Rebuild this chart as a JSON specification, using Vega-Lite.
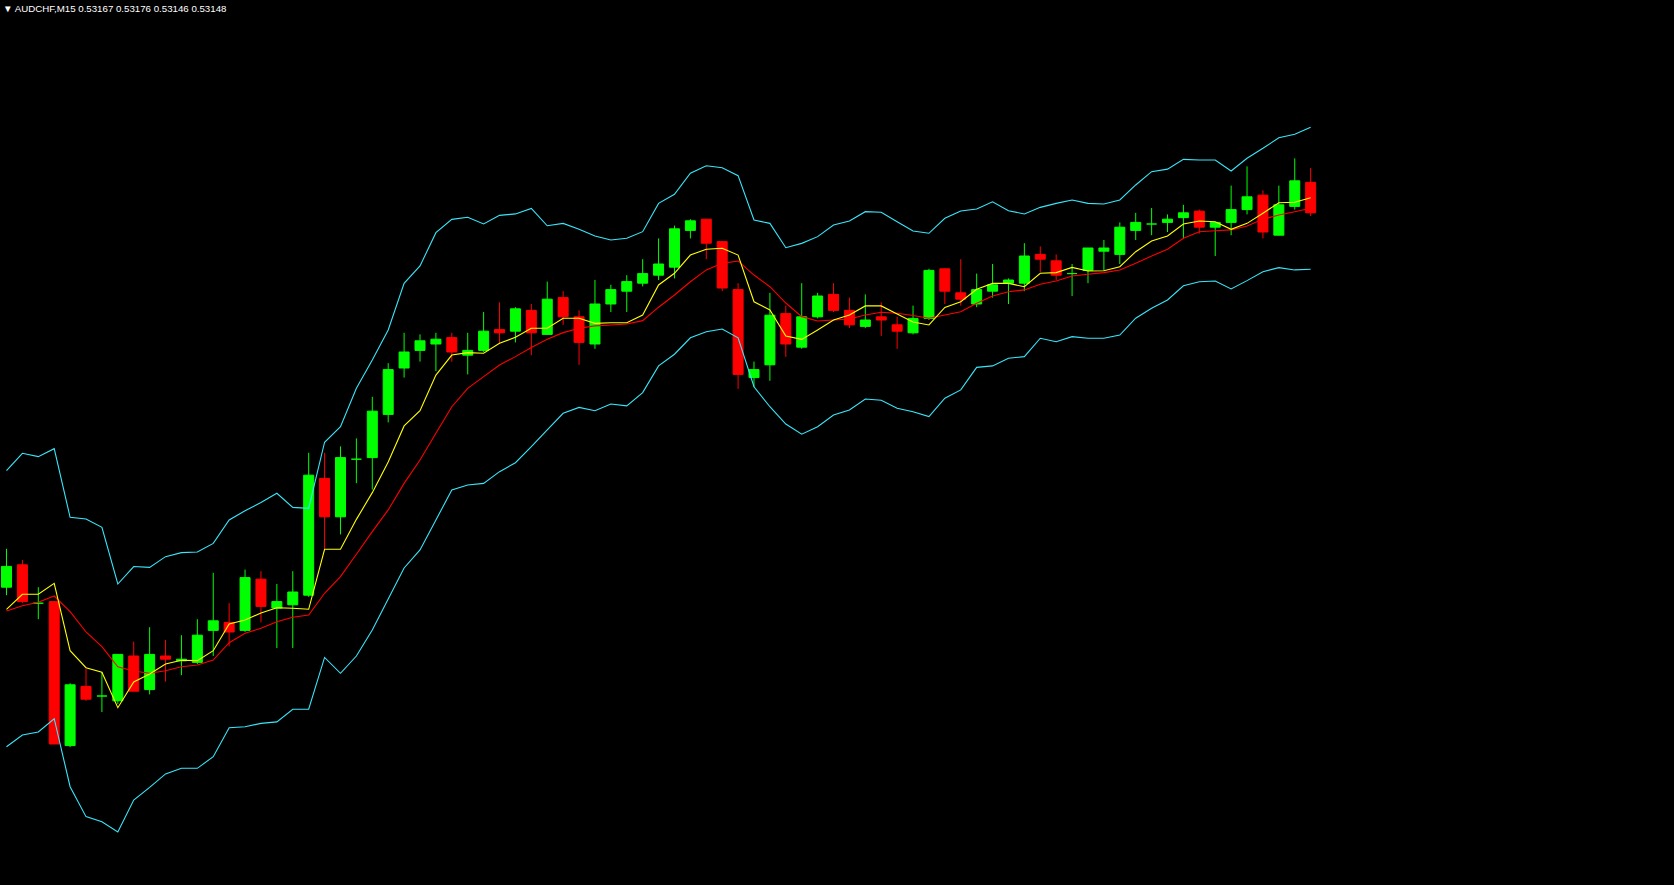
{
  "$schema": "https://vega.github.io/schema/vega-lite/v6.json",
  "width": 1674,
  "height": 885,
  "padding": 0,
  "autosize": {"type": "fit", "contains": "padding"},
  "background": "#000000",
  "config": {"view": {"stroke": null, "fill": "#000000"}},
  "title": {"text": "▼ AUDCHF,M15  0.53167 0.53176 0.53146 0.53148", "anchor": "start", "frame": "group", "orient": "top", "offset": -21.5, "baseline": "alphabetic", "dx": 3, "font": "Liberation Sans", "fontSize": 9.7, "fontWeight": "normal", "color": "#FFFFFF"},
  "data": {"values": [
    {"i":0,"open":0.52914,"high":0.52938,"low":0.52909,"close":0.52927,"upper":0.529868,"lower":0.528143,"fast":0.529002,"slow":0.528991},
    {"i":1,"open":0.52928,"high":0.52931,"low":0.52904,"close":0.52905,"upper":0.529977,"lower":0.528216,"fast":0.529096,"slow":0.529024},
    {"i":2,"open":0.52904,"high":0.52914,"low":0.52894,"close":0.52904,"upper":0.529956,"lower":0.528235,"fast":0.529096,"slow":0.529046},
    {"i":3,"open":0.52905,"high":0.52905,"low":0.52816,"close":0.52816,"upper":0.530006,"lower":0.528318,"fast":0.529164,"slow":0.529085},
    {"i":4,"open":0.52815,"high":0.52854,"low":0.52814,"close":0.52853,"upper":0.529577,"lower":0.527893,"fast":0.528743,"slow":0.528987},
    {"i":5,"open":0.52852,"high":0.52863,"low":0.52843,"close":0.52844,"upper":0.529566,"lower":0.527706,"fast":0.528637,"slow":0.528860},
    {"i":6,"open":0.52846,"high":0.52861,"low":0.52836,"close":0.52846,"upper":0.529514,"lower":0.527674,"fast":0.528608,"slow":0.528768},
    {"i":7,"open":0.52843,"high":0.52872,"low":0.52841,"close":0.52872,"upper":0.529160,"lower":0.527610,"fast":0.528387,"slow":0.528643},
    {"i":8,"open":0.52871,"high":0.52880,"low":0.52849,"close":0.52849,"upper":0.529269,"lower":0.527810,"fast":0.528548,"slow":0.528616},
    {"i":9,"open":0.52850,"high":0.52889,"low":0.52847,"close":0.52872,"upper":0.529264,"lower":0.527889,"fast":0.528598,"slow":0.528602},
    {"i":10,"open":0.52871,"high":0.52881,"low":0.52855,"close":0.52869,"upper":0.529331,"lower":0.527973,"fast":0.528660,"slow":0.528618},
    {"i":11,"open":0.52868,"high":0.52884,"low":0.52859,"close":0.52869,"upper":0.529356,"lower":0.528008,"fast":0.528683,"slow":0.528643},
    {"i":12,"open":0.52867,"high":0.52894,"low":0.52866,"close":0.52884,"upper":0.529360,"lower":0.528008,"fast":0.528681,"slow":0.528654},
    {"i":13,"open":0.52887,"high":0.52923,"low":0.52871,"close":0.52893,"upper":0.529414,"lower":0.528081,"fast":0.528743,"slow":0.528685},
    {"i":14,"open":0.52892,"high":0.52904,"low":0.52877,"close":0.52886,"upper":0.529560,"lower":0.528262,"fast":0.528910,"slow":0.528793},
    {"i":15,"open":0.52887,"high":0.52925,"low":0.52886,"close":0.52920,"upper":0.529618,"lower":0.528268,"fast":0.528935,"slow":0.528852},
    {"i":16,"open":0.52919,"high":0.52924,"low":0.52892,"close":0.52902,"upper":0.529669,"lower":0.528289,"fast":0.528979,"slow":0.528883},
    {"i":17,"open":0.52901,"high":0.52916,"low":0.52876,"close":0.52905,"upper":0.529727,"lower":0.528298,"fast":0.529012,"slow":0.528924},
    {"i":18,"open":0.52903,"high":0.52924,"low":0.52876,"close":0.52911,"upper":0.529639,"lower":0.528377,"fast":0.529008,"slow":0.528952},
    {"i":19,"open":0.52909,"high":0.52998,"low":0.52908,"close":0.52984,"upper":0.529633,"lower":0.528377,"fast":0.529002,"slow":0.528966},
    {"i":20,"open":0.52982,"high":0.52998,"low":0.52938,"close":0.52958,"upper":0.530046,"lower":0.528701,"fast":0.529377,"slow":0.529102},
    {"i":21,"open":0.52958,"high":0.53002,"low":0.52947,"close":0.52995,"upper":0.530143,"lower":0.528602,"fast":0.529377,"slow":0.529206},
    {"i":22,"open":0.52994,"high":0.53007,"low":0.52979,"close":0.52994,"upper":0.530383,"lower":0.528710,"fast":0.529564,"slow":0.529346},
    {"i":23,"open":0.52995,"high":0.53033,"low":0.52975,"close":0.53024,"upper":0.530560,"lower":0.528873,"fast":0.529731,"slow":0.529487},
    {"i":24,"open":0.53022,"high":0.53054,"low":0.53017,"close":0.53050,"upper":0.530748,"lower":0.529066,"fast":0.529923,"slow":0.529623},
    {"i":25,"open":0.53051,"high":0.53073,"low":0.53045,"close":0.53061,"upper":0.531039,"lower":0.529260,"fast":0.530148,"slow":0.529789},
    {"i":26,"open":0.53062,"high":0.53072,"low":0.53055,"close":0.53068,"upper":0.531148,"lower":0.529373,"fast":0.530243,"slow":0.529935},
    {"i":27,"open":0.53066,"high":0.53073,"low":0.53049,"close":0.53069,"upper":0.531356,"lower":0.529560,"fast":0.530466,"slow":0.530102},
    {"i":28,"open":0.53070,"high":0.53073,"low":0.53055,"close":0.53061,"upper":0.531439,"lower":0.529748,"fast":0.530591,"slow":0.530268},
    {"i":29,"open":0.53059,"high":0.53073,"low":0.53047,"close":0.53062,"upper":0.531452,"lower":0.529779,"fast":0.530606,"slow":0.530383},
    {"i":30,"open":0.53062,"high":0.53086,"low":0.53061,"close":0.53074,"upper":0.531410,"lower":0.529789,"fast":0.530602,"slow":0.530456},
    {"i":31,"open":0.53075,"high":0.53092,"low":0.53066,"close":0.53073,"upper":0.531464,"lower":0.529862,"fast":0.530664,"slow":0.530529},
    {"i":32,"open":0.53074,"high":0.53089,"low":0.53067,"close":0.53088,"upper":0.531473,"lower":0.529918,"fast":0.530702,"slow":0.530581},
    {"i":33,"open":0.53087,"high":0.53091,"low":0.53059,"close":0.53073,"upper":0.531507,"lower":0.530018,"fast":0.530758,"slow":0.530638},
    {"i":34,"open":0.53072,"high":0.53105,"low":0.53072,"close":0.53094,"upper":0.531399,"lower":0.530123,"fast":0.530758,"slow":0.530689},
    {"i":35,"open":0.53095,"high":0.53099,"low":0.53078,"close":0.53083,"upper":0.531414,"lower":0.530227,"fast":0.530821,"slow":0.530731},
    {"i":36,"open":0.53083,"high":0.53087,"low":0.53053,"close":0.53067,"upper":0.531377,"lower":0.530264,"fast":0.530821,"slow":0.530758},
    {"i":37,"open":0.53066,"high":0.53106,"low":0.53063,"close":0.53091,"upper":0.531335,"lower":0.530243,"fast":0.530789,"slow":0.530773},
    {"i":38,"open":0.53091,"high":0.53103,"low":0.53086,"close":0.53100,"upper":0.531310,"lower":0.530285,"fast":0.530793,"slow":0.530779},
    {"i":39,"open":0.53099,"high":0.53109,"low":0.53086,"close":0.53105,"upper":0.531321,"lower":0.530273,"fast":0.530793,"slow":0.530785},
    {"i":40,"open":0.53104,"high":0.53119,"low":0.53102,"close":0.53110,"upper":0.531362,"lower":0.530356,"fast":0.530841,"slow":0.530806},
    {"i":41,"open":0.53109,"high":0.53132,"low":0.53106,"close":0.53116,"upper":0.531539,"lower":0.530523,"fast":0.531029,"slow":0.530890},
    {"i":42,"open":0.53114,"high":0.53140,"low":0.53107,"close":0.53138,"upper":0.531596,"lower":0.530596,"fast":0.531102,"slow":0.530966},
    {"i":43,"open":0.53137,"high":0.53144,"low":0.53132,"close":0.53143,"upper":0.531727,"lower":0.530699,"fast":0.531216,"slow":0.531049},
    {"i":44,"open":0.53144,"high":0.53144,"low":0.53119,"close":0.53129,"upper":0.531774,"lower":0.530737,"fast":0.531252,"slow":0.531123},
    {"i":45,"open":0.53130,"high":0.53130,"low":0.53099,"close":0.53101,"upper":0.531762,"lower":0.530754,"fast":0.531258,"slow":0.531164},
    {"i":46,"open":0.53100,"high":0.53104,"low":0.53038,"close":0.53047,"upper":0.531712,"lower":0.530699,"fast":0.531216,"slow":0.531179},
    {"i":47,"open":0.53045,"high":0.53055,"low":0.53039,"close":0.53050,"upper":0.531435,"lower":0.530393,"fast":0.530924,"slow":0.531091},
    {"i":48,"open":0.53053,"high":0.53098,"low":0.53043,"close":0.53084,"upper":0.531414,"lower":0.530268,"fast":0.530873,"slow":0.531018},
    {"i":49,"open":0.53085,"high":0.53090,"low":0.53058,"close":0.53066,"upper":0.531262,"lower":0.530160,"fast":0.530710,"slow":0.530916},
    {"i":50,"open":0.53064,"high":0.53104,"low":0.53063,"close":0.53083,"upper":0.531289,"lower":0.530096,"fast":0.530689,"slow":0.530831},
    {"i":51,"open":0.53083,"high":0.53098,"low":0.53082,"close":0.53096,"upper":0.531331,"lower":0.530143,"fast":0.530748,"slow":0.530804},
    {"i":52,"open":0.53097,"high":0.53104,"low":0.53086,"close":0.53087,"upper":0.531404,"lower":0.530216,"fast":0.530810,"slow":0.530810},
    {"i":53,"open":0.53087,"high":0.53095,"low":0.53076,"close":0.53078,"upper":0.531429,"lower":0.530248,"fast":0.530841,"slow":0.530816},
    {"i":54,"open":0.53077,"high":0.53097,"low":0.53076,"close":0.53081,"upper":0.531487,"lower":0.530316,"fast":0.530898,"slow":0.530841},
    {"i":55,"open":0.53083,"high":0.53092,"low":0.53071,"close":0.53081,"upper":0.531483,"lower":0.530308,"fast":0.530898,"slow":0.530858},
    {"i":56,"open":0.53078,"high":0.53083,"low":0.53063,"close":0.53074,"upper":0.531424,"lower":0.530258,"fast":0.530848,"slow":0.530852},
    {"i":57,"open":0.53073,"high":0.53090,"low":0.53072,"close":0.53082,"upper":0.531366,"lower":0.530237,"fast":0.530798,"slow":0.530838},
    {"i":58,"open":0.53082,"high":0.53113,"low":0.53081,"close":0.53112,"upper":0.531352,"lower":0.530206,"fast":0.530779,"slow":0.530821},
    {"i":59,"open":0.53113,"high":0.53113,"low":0.53091,"close":0.53099,"upper":0.531446,"lower":0.530321,"fast":0.530889,"slow":0.530841},
    {"i":60,"open":0.53098,"high":0.53119,"low":0.53090,"close":0.53094,"upper":0.531491,"lower":0.530373,"fast":0.530924,"slow":0.530862},
    {"i":61,"open":0.53091,"high":0.53110,"low":0.53089,"close":0.53100,"upper":0.531504,"lower":0.530514,"fast":0.531002,"slow":0.530914},
    {"i":62,"open":0.53099,"high":0.53116,"low":0.53095,"close":0.53103,"upper":0.531549,"lower":0.530523,"fast":0.531039,"slow":0.530960},
    {"i":63,"open":0.53104,"high":0.53107,"low":0.53091,"close":0.53106,"upper":0.531493,"lower":0.530571,"fast":0.531039,"slow":0.530987},
    {"i":64,"open":0.53104,"high":0.53129,"low":0.53099,"close":0.53121,"upper":0.531473,"lower":0.530581,"fast":0.531018,"slow":0.530998},
    {"i":65,"open":0.53122,"high":0.53127,"low":0.53111,"close":0.53119,"upper":0.531514,"lower":0.530696,"fast":0.531102,"slow":0.531033},
    {"i":66,"open":0.53118,"high":0.53122,"low":0.53106,"close":0.53109,"upper":0.531539,"lower":0.530674,"fast":0.531106,"slow":0.531054},
    {"i":67,"open":0.53110,"high":0.53116,"low":0.53096,"close":0.53110,"upper":0.531560,"lower":0.530706,"fast":0.531139,"slow":0.531085},
    {"i":68,"open":0.53112,"high":0.53126,"low":0.53104,"close":0.53126,"upper":0.531539,"lower":0.530696,"fast":0.531116,"slow":0.531096},
    {"i":69,"open":0.53124,"high":0.53131,"low":0.53112,"close":0.53126,"upper":0.531535,"lower":0.530696,"fast":0.531118,"slow":0.531106},
    {"i":70,"open":0.53122,"high":0.53142,"low":0.53116,"close":0.53139,"upper":0.531560,"lower":0.530716,"fast":0.531143,"slow":0.531123},
    {"i":71,"open":0.53137,"high":0.53148,"low":0.53131,"close":0.53142,"upper":0.531654,"lower":0.530821,"fast":0.531237,"slow":0.531164},
    {"i":72,"open":0.53141,"high":0.53151,"low":0.53134,"close":0.53141,"upper":0.531737,"lower":0.530883,"fast":0.531304,"slow":0.531210},
    {"i":73,"open":0.53142,"high":0.53147,"low":0.53136,"close":0.53144,"upper":0.531753,"lower":0.530935,"fast":0.531335,"slow":0.531252},
    {"i":74,"open":0.53145,"high":0.53153,"low":0.53132,"close":0.53148,"upper":0.531814,"lower":0.531024,"fast":0.531410,"slow":0.531321},
    {"i":75,"open":0.53149,"high":0.53150,"low":0.53135,"close":0.53139,"upper":0.531810,"lower":0.531049,"fast":0.531429,"slow":0.531362},
    {"i":76,"open":0.53139,"high":0.53142,"low":0.53121,"close":0.53142,"upper":0.531810,"lower":0.531054,"fast":0.531424,"slow":0.531368},
    {"i":77,"open":0.53142,"high":0.53165,"low":0.53134,"close":0.53150,"upper":0.531741,"lower":0.531004,"fast":0.531377,"slow":0.531373},
    {"i":78,"open":0.53150,"high":0.53177,"low":0.53147,"close":0.53158,"upper":0.531821,"lower":0.531056,"fast":0.531414,"slow":0.531398},
    {"i":79,"open":0.53159,"high":0.53162,"low":0.53132,"close":0.53136,"upper":0.531883,"lower":0.531112,"fast":0.531477,"slow":0.531439},
    {"i":80,"open":0.53134,"high":0.53165,"low":0.53134,"close":0.53153,"upper":0.531949,"lower":0.531137,"fast":0.531543,"slow":0.531466},
    {"i":81,"open":0.53152,"high":0.53182,"low":0.53150,"close":0.53168,"upper":0.531971,"lower":0.531123,"fast":0.531546,"slow":0.531487},
    {"i":82,"open":0.53167,"high":0.53176,"low":0.53146,"close":0.53148,"upper":0.532014,"lower":0.531127,"fast":0.531574,"slow":0.531508}
  ]},
  "encoding": {
    "x": {"field": "i", "type": "quantitative", "scale": {"domain": [-0.09375, 104.53125], "nice": false, "zero": false}, "axis": null}
  },
  "layer": [
    {
      "mark": {"type": "rule", "strokeWidth": 1},
      "encoding": {
        "y": {"field": "low", "type": "quantitative", "scale": {"domain": [0.52727875, 0.53281], "nice": false, "zero": false}, "axis": null},
        "y2": {"field": "high"},
        "color": {"condition": {"test": "datum.close >= datum.open", "value": "#00FF00"}, "value": "#FF0000"}
      }
    },
    {
      "mark": {"type": "bar", "orient": "vertical", "width": 10, "strokeWidth": 1},
      "encoding": {
        "y": {"field": "open", "type": "quantitative", "scale": {"domain": [0.52727875, 0.53281], "nice": false, "zero": false}, "axis": null},
        "y2": {"field": "close"},
        "fill": {"condition": {"test": "datum.close >= datum.open", "value": "#00FF00"}, "value": "#FF0000"},
        "stroke": {"condition": {"test": "datum.close >= datum.open", "value": "#00FF00"}, "value": "#FF0000"}
      }
    },
    {
      "mark": {"type": "line", "color": "#38E6FA", "strokeWidth": 1.1},
      "encoding": {"y": {"field": "upper", "type": "quantitative", "scale": {"domain": [0.52727875, 0.53281], "nice": false, "zero": false}, "axis": null}}
    },
    {
      "mark": {"type": "line", "color": "#38E6FA", "strokeWidth": 1.1},
      "encoding": {"y": {"field": "lower", "type": "quantitative", "scale": {"domain": [0.52727875, 0.53281], "nice": false, "zero": false}, "axis": null}}
    },
    {
      "mark": {"type": "line", "color": "#FF0000", "strokeWidth": 1.1},
      "encoding": {"y": {"field": "slow", "type": "quantitative", "scale": {"domain": [0.52727875, 0.53281], "nice": false, "zero": false}, "axis": null}}
    },
    {
      "mark": {"type": "line", "color": "#FFFF00", "strokeWidth": 1.1},
      "encoding": {"y": {"field": "fast", "type": "quantitative", "scale": {"domain": [0.52727875, 0.53281], "nice": false, "zero": false}, "axis": null}}
    }
  ]
}
